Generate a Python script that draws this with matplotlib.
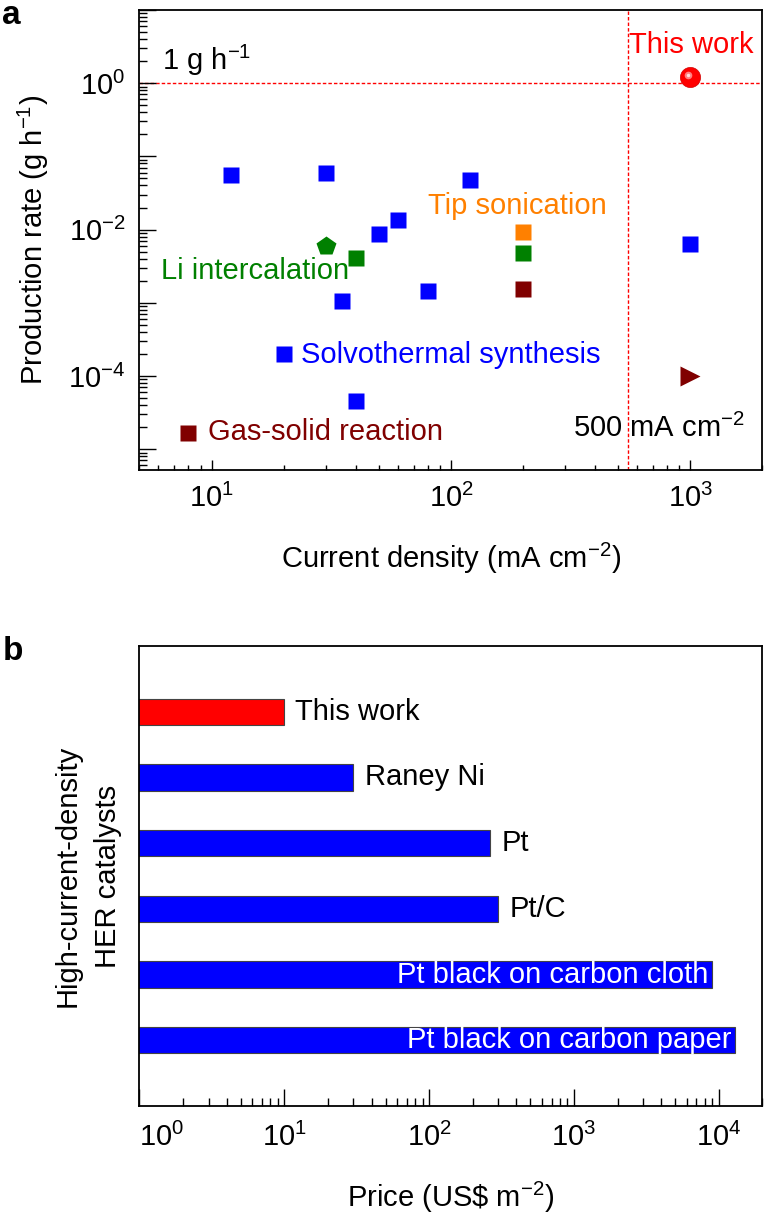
import numpy as np
import matplotlib.pyplot as plt
from matplotlib import ticker
from matplotlib.transforms import offset_copy

plt.rcParams['font.family'] = ['Liberation Sans', 'DejaVu Sans']
plt.rcParams['mathtext.fontset'] = 'custom'
plt.rcParams['mathtext.rm'] = 'Liberation Sans'
plt.rcParams['mathtext.it'] = 'Liberation Sans:italic'
plt.rcParams['mathtext.default'] = 'regular'
plt.rcParams['font.size'] = 21

# panel a: current density (mA cm-2) vs production rate (g h-1)
solvo_j = [12, 30, 50, 60, 35, 20, 40, 80, 120, 1000]
solvo_rate = [0.055, 0.060, 0.0088, 0.0137, 0.00107, 2.0e-4, 4.5e-5, 0.00146, 0.047, 0.0064]
tip_j = [200]
tip_rate = [0.0094]
li_j = [40, 200]
li_rate = [0.0041, 0.0048]
li_pent_j = [30]
li_pent_rate = [0.006]
gas_j = [8, 200]
gas_rate = [1.66e-5, 0.00155]
gas_tri_j = [1000]
gas_tri_rate = [1.0e-4]
this_j = [1000]
this_rate = [1.2]
ref_rate = 1.0      # 1 g h-1 line
ref_j = 550         # 500 mA cm-2 line (as drawn)

# panel b: price of catalysts
catalysts = ['This work', 'Raney Ni', 'Pt', 'Pt/C',
             'Pt black on carbon cloth', 'Pt black on carbon paper']
prices = [10, 30, 265, 300, 9000, 13000]
price_ticks = [1, 10, 100, 1000, 10000]

blue = '#0000FF'
orange = '#FF8000'
green = '#008000'
darkred = '#800000'
red = '#FF0000'

fs = 21
fig = plt.figure(figsize=(7.66, 12.14), dpi=100)

# ---------------- panel a ----------------
ax = fig.add_axes([0.1821, 0.6129, 0.8133, 0.3789])
ax.set_xscale('log')
ax.set_yscale('log')
ax.set_xlim(5, 2000)
ax.set_ylim(5.2e-6, 10)

ax.axhline(ref_rate, color=red, lw=1, ls=(0, (2.5, 1.5)), zorder=1)
ax.axvline(ref_j, color=red, lw=1, ls=(0, (2.5, 1.5)), zorder=1)

ms = 12
ax.plot(solvo_j, solvo_rate, 's', color=blue, ms=ms, mec='none')
ax.plot(tip_j, tip_rate, 's', color=orange, ms=ms, mec='none')
ax.plot(li_j, li_rate, 's', color=green, ms=ms, mec='none')
ax.plot(li_pent_j, li_pent_rate, 'p', color=green, ms=15, mec='none')
ax.plot(gas_j, gas_rate, 's', color=darkred, ms=ms, mec='none')
ax.plot(gas_tri_j, gas_tri_rate, '>', color=darkred, ms=15, mec='none')
# shaded sphere for this work
ax.plot(this_j, this_rate, 'o', color=red, ms=14.5, mec='#d00000', mew=0.5, zorder=5)
hl = offset_copy(ax.transData, fig=fig, x=-2.5, y=2.5, units='dots')
ax.plot(this_j, this_rate, 'o', color='#ff8080', ms=5.5, mec='none', transform=hl, zorder=6)
ax.plot(this_j, this_rate, 'o', color='#ffe0e0', ms=2.5, mec='none', transform=hl, zorder=7)

ax.text(6.2, 2.07, '1 g h$^{-1}$', ha='left', va='center', color='black', fontsize=fs)
ax.text(1010, 3.3, 'This work', ha='center', va='center', color=red, fontsize=fs)
ax.text(190, 0.0207, 'Tip sonication', ha='center', va='center', color=orange, fontsize=fs)
ax.text(6.13, 0.00275, 'Li intercalation', ha='left', va='center', color=green, fontsize=fs)
ax.text(23.7, 1.95e-4, 'Solvothermal synthesis', ha='left', va='center', color=blue, fontsize=fs)
ax.text(9.7, 1.7e-5, 'Gas-solid reaction', ha='left', va='center', color=darkred, fontsize=fs)
ax.text(322, 1.95e-5, '500 mA cm$^{-2}$', ha='left', va='center', color='black', fontsize=fs)

ax.xaxis.set_major_locator(ticker.LogLocator(base=10, numticks=10))
ax.xaxis.set_minor_locator(ticker.LogLocator(base=10, subs=np.arange(2, 10), numticks=20))
ax.xaxis.set_major_formatter(ticker.FuncFormatter(
    lambda v, _: '$10^{%d}$' % int(round(np.log10(v)))))
ax.xaxis.set_minor_formatter(ticker.NullFormatter())
ax.yaxis.set_major_locator(ticker.LogLocator(base=10, numticks=20))
ax.yaxis.set_minor_locator(ticker.LogLocator(base=10, subs=np.arange(2, 10), numticks=40))


def even_exp(v, _):
    e = int(round(np.log10(v)))
    return '$10^{%d}$' % e if e % 2 == 0 else ''


ax.yaxis.set_major_formatter(ticker.FuncFormatter(even_exp))
ax.yaxis.set_minor_formatter(ticker.NullFormatter())
ax.tick_params(axis='y', which='major', direction='in', length=12, width=1, pad=10, labelsize=fs)
ax.tick_params(axis='y', which='minor', direction='in', length=6, width=1)
ax.tick_params(axis='x', which='major', direction='in', length=7, width=1, pad=10, labelsize=fs)
ax.tick_params(axis='x', which='minor', direction='in', length=3.5, width=1)
for s in ax.spines.values():
    s.set_linewidth(1.3)

ax.set_xlabel('Current density (mA cm$^{-2}$)', fontsize=fs)
ax.set_ylabel('Production rate (g h$^{-1}$)', fontsize=fs)
ax.xaxis.set_label_coords(0.5, -0.155)
ax.yaxis.set_label_coords(-0.142, 0.5)

# ---------------- panel b ----------------
bx = fig.add_axes([0.1821, 0.0890, 0.8133, 0.3789])
bx.set_xscale('log')
bx.set_xlim(1, 2e4)
ypos = np.arange(len(catalysts))
bar_colors = [red] + [blue] * (len(catalysts) - 1)
bx.barh(ypos, prices, height=0.4, left=0, color=bar_colors,
        edgecolor='#444444', linewidth=0.8)
bx.set_ylim(len(catalysts), -1)

for i, (name, p) in enumerate(zip(catalysts, prices)):
    if i >= 4:
        bx.annotate(name, (p, i), xytext=(-3, 0), textcoords='offset points',
                    ha='right', va='center', color='white', fontsize=fs)
    else:
        bx.annotate(name, (p, i), xytext=(8, 0), textcoords='offset points',
                    ha='left', va='center', color='black', fontsize=fs)

bx.set_yticks([])
bx.set_xticks(price_ticks)
bx.set_xticklabels(['$10^{%d}$' % int(round(np.log10(v))) for v in price_ticks])
bx.xaxis.set_minor_locator(ticker.LogLocator(base=10, subs=np.arange(2, 10), numticks=20))
bx.xaxis.set_minor_formatter(ticker.NullFormatter())
bx.tick_params(axis='x', which='major', direction='in', length=12, width=1, pad=12, labelsize=fs)
bx.tick_params(axis='x', which='minor', direction='in', length=6, width=1)
bx.get_xticklabels()[0].set_ha('left')
for s in bx.spines.values():
    s.set_linewidth(1.3)

bx.set_xlabel('Price (US\\$ m$^{-2}$)', fontsize=fs)
bx.set_ylabel('High-current-density\nHER catalysts', fontsize=fs, linespacing=1.55)
bx.xaxis.set_label_coords(0.5, -0.16)
bx.yaxis.set_label_coords(-0.028, 0.5)

fig.text(0.003, 1 - 0.5 / 1214, 'a', fontsize=24, fontweight='bold', va='top')
fig.text(0.003, 1 - 660 / 1214, 'b', fontsize=24, fontweight='bold', va='baseline')

fig.savefig('out.png', dpi=100)
